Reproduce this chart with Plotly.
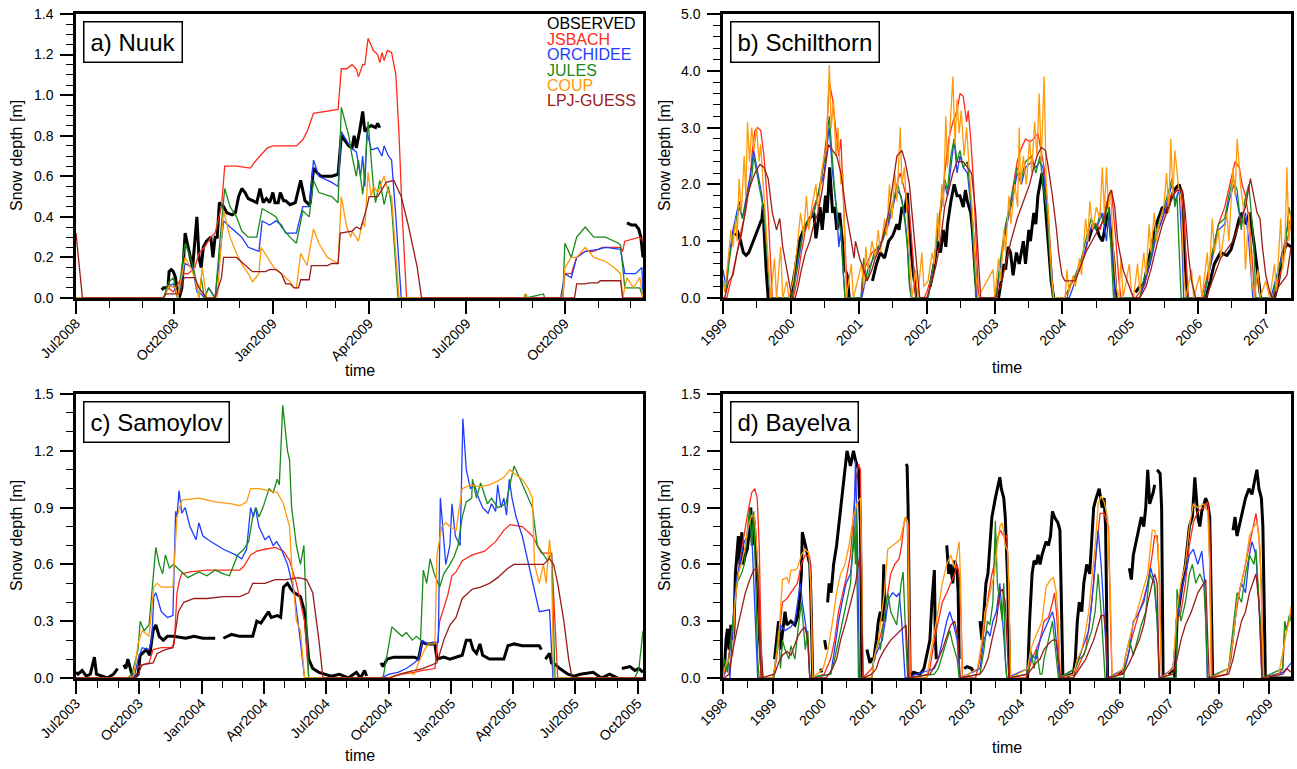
import datetime as dt
import plotly.graph_objects as go

# ---------------------------------------------------------------- series meta
series_names = ["OBSERVED", "JSBACH", "ORCHIDEE", "JULES", "COUP", "LPJ-GUESS"]
series_colors = ["#000000", "#FF2A1A", "#1F3DFF", "#1A8A1A", "#FF9A0A", "#9B1B1B"]
series_widths = [3.0, 1.3, 1.3, 1.3, 1.3, 1.3]

# ---------------------------------------------------------------- a) Nuuk  (days since 2008-07-01, depth m)
nuuk_start = "2008-07-01"
nuuk_obs = [(80,.04),(82,.05),(86,.05),(87,.13),(89,.14),(91,.13),(93,.10),(95,.02),(97,.01),(99,.05),(102,.32),(105,.25),(107,.20),(109,.15),(113,.40),(115,.20),(117,.15),(119,.25),(122,.28),(126,.30),(128,.20),(130,.30),(132,.30),(134,.47),(138,.45),(141,.42),(146,.41),(149,.42),(152,.50),(155,.54),(158,.52),(161,.49),(165,.48),(169,.47),(172,.54),(175,.47),(178,.49),(181,.47),(184,.52),(186,.47),(189,.47),(191,.52),(194,.48),(196,.48),(200,.46),(205,.47),(210,.58),(214,.48),(218,.46),(219,.47),(222,.64),(225,.62),(229,.60),(239,.60),(245,.61),(248,.80),(255,.75),(258,.74),(260,.80),(262,.74),(265,.82),(268,.92),(270,.82),(273,.84),(276,.85),(280,.84),(282,.86),(284,.84),(400,None),(515,.37),(519,.36),(523,.36),(526,.34),(528,.30),(529,.25),(530,.20)]
nuuk_jsb = [(0,0),(82,0),(86,.05),(91,.03),(101,.12),(105,.12),(111,.15),(115,.22),(120,.25),(126,.30),(130,.32),(134,.40),(136,.45),(139,.65),(150,.65),(163,.64),(167,.67),(172,.70),(179,.74),(184,.75),(206,.75),(212,.78),(216,.82),(222,.91),(235,.92),(245,.93),(248,1.13),(253,1.13),(258,1.15),(262,1.13),(264,1.09),(268,1.15),(270,1.15),(273,1.28),(278,1.22),(282,1.20),(284,1.16),(286,1.21),(288,1.17),(291,1.22),(295,1.21),(299,1.10),(302,.80),(305,.40),(309,0),(455,0),(457,.12),(463,.12),(468,.20),(476,.23),(484,.23),(492,.25),(509,.25),(511,.23),(513,.28),(519,.29),(527,.30),(530,.28)]
nuuk_orc = [(0,0),(82,0),(84,.03),(87,.06),(91,.07),(95,0),(102,.17),(109,.15),(113,.03),(117,.02),(120,0),(124,.05),(130,0),(134,.20),(138,.38),(144,.35),(150,.32),(155,.30),(161,.25),(171,.23),(174,.38),(181,.36),(187,.38),(192,.36),(196,.32),(206,.32),(212,.45),(218,.45),(222,.68),(227,.60),(239,.57),(245,.55),(248,.82),(257,.74),(262,.72),(266,.60),(268,.70),(270,.55),(272,.82),(276,.73),(282,.74),(286,.70),(288,.75),(292,.70),(295,.68),(299,.40),(304,0),(453,0),(457,.12),(463,.10),(468,.20),(476,.23),(488,.24),(495,.25),(509,.24),(513,.12),(523,.12),(529,.15),(530,0)]
nuuk_jul = [(0,0),(82,0),(84,.04),(87,.08),(91,.10),(95,0),(102,.27),(107,.20),(111,.12),(115,0),(117,.10),(120,0),(124,.05),(130,0),(134,.25),(139,.54),(144,.45),(150,.40),(155,.33),(161,.30),(169,.30),(174,.44),(181,.42),(187,.40),(192,.35),(200,.30),(206,.27),(212,.43),(218,.40),(222,.58),(227,.52),(239,.50),(245,.47),(248,.94),(255,.80),(258,.70),(262,.60),(264,.68),(268,.51),(270,.62),(273,.87),(278,.55),(280,.47),(284,.58),(288,.46),(292,.55),(295,.45),(301,0),(419,0),(420,.02),(421,0),(437,.02),(438,0),(455,0),(457,.27),(463,.20),(468,.30),(476,.35),(484,.30),(495,.30),(507,.27),(509,.26),(513,.05),(527,.05),(530,0)]
nuuk_coup = [(0,0),(82,0),(84,.02),(87,.06),(93,.05),(95,0),(102,.20),(107,.15),(111,.10),(115,0),(118,.15),(122,0),(132,0),(138,.43),(144,.30),(150,.22),(157,.15),(161,.12),(165,.08),(171,.12),(173,.25),(179,.20),(185,.15),(192,.12),(200,.08),(204,.05),(206,.05),(210,.22),(216,.16),(222,.34),(227,.27),(235,.20),(245,.17),(248,.50),(253,.35),(257,.30),(258,.33),(264,.28),(268,.38),(270,.35),(273,.62),(276,.50),(278,.55),(282,.52),(288,.60),(292,.52),(295,.50),(302,0),(420,0),(421,.02),(422,0),(455,0),(457,.15),(463,.20),(468,.20),(476,.25),(484,.20),(495,.18),(503,.15),(509,.12),(511,0),(515,.10),(521,.05),(527,.10),(530,0)]
nuuk_lpj = [(0,.32),(6,0),(82,0),(84,.02),(97,.02),(101,.10),(111,.10),(115,.05),(122,0),(130,0),(136,.10),(138,.20),(150,.20),(161,.15),(165,.13),(177,.13),(181,.14),(187,.14),(192,.12),(196,.07),(200,.07),(204,.05),(208,.05),(210,.09),(218,.09),(220,.16),(235,.16),(239,.17),(245,.17),(247,.32),(258,.33),(262,.35),(266,.34),(272,.45),(274,.50),(282,.50),(290,.57),(297,.58),(304,.50),(311,.35),(315,.25),(319,.15),(323,0),(466,0),(468,.07),(476,.07),(480,.075),(488,.075),(490,.085),(509,.085),(511,0),(530,0)]

# ---------------------------------------------------------------- b) Schilthorn  (decimal year, depth m)
schil_obs = [(1999.18,1.10),(1999.22,1.15),(1999.26,1.00),(1999.30,0.80),(1999.34,0.75),(1999.38,0.80),(1999.43,0.95),(1999.48,1.10),(1999.52,1.20),(1999.55,1.30),(1999.575,1.40),(1999.593,1.65),(1999.605,1.20),(1999.636,0.50),(1999.666,0.0),(1999.80,None),
 (2000.002,0.0),(2000.021,0.2),(2000.064,0.5),(2000.125,1.0),(2000.186,1.2),(2000.278,1.4),(2000.339,1.5),(2000.369,1.05),(2000.430,1.6),(2000.461,1.2),(2000.510,1.8),(2000.534,1.5),(2000.571,2.3),(2000.614,1.5),(2000.644,1.6),(2000.675,1.2),(2000.718,1.5),(2000.754,1.0),(2000.797,0.5),(2000.828,0.4),(2000.858,0.0),(2001.0,None),
 (2001.20,0.3),(2001.26,0.6),(2001.317,0.8),(2001.378,0.7),(2001.439,1.0),(2001.500,1.1),(2001.561,1.3),(2001.592,1.2),(2001.634,1.6),(2001.671,1.5),(2001.714,1.85),(2001.757,1.0),(2001.806,0.4),(2001.836,0.2),(2001.855,0.0),(2002.0,None),
 (2002.050,0.2),(2002.111,0.6),(2002.160,1.0),(2002.203,0.8),(2002.246,1.2),(2002.282,0.9),(2002.307,1.3),(2002.356,1.7),(2002.405,2.0),(2002.447,1.8),(2002.490,1.8),(2002.539,1.6),(2002.570,1.9),(2002.600,1.7),(2002.649,1.5),(2002.674,1.2),(2002.722,0.3),(2002.753,0.0),(2002.9,None),
 (2003.059,0.0),(2003.101,0.3),(2003.138,0.6),(2003.163,0.5),(2003.199,0.9),(2003.236,0.8),(2003.273,0.4),(2003.322,0.8),(2003.364,0.6),(2003.425,1.0),(2003.456,0.6),(2003.505,1.2),(2003.529,1.0),(2003.578,1.5),(2003.609,1.3),(2003.639,1.8),(2003.670,2.0),(2003.700,2.2),(2003.731,1.9),(2003.792,1.0),(2003.835,0.3),(2003.872,0.0),(2004.0,None),
 (2004.38,1.0),(2004.43,1.2),(2004.49,1.3),(2004.54,1.1),(2004.59,1.0),(2004.65,1.4),(2004.68,1.5),(2004.71,1.2),(2004.76,0.6),(2004.79,0.0),(2004.95,None),
 (2005.076,0.1),(2005.137,0.2),(2005.198,0.25),(2005.259,0.6),(2005.320,1.0),(2005.381,1.3),(2005.443,1.5),(2005.473,1.6),(2005.534,1.5),(2005.583,1.7),(2005.644,1.9),(2005.717,2.0),(2005.767,1.8),(2005.809,0.5),(2005.840,0.0),(2006.0,None),
 (2006.115,0.0),(2006.176,0.3),(2006.237,0.6),(2006.329,0.8),(2006.421,0.75),(2006.482,0.85),(2006.543,1.1),(2006.604,1.4),(2006.647,1.5),(2006.696,1.3),(2006.757,1.5),(2006.818,1.0),(2006.867,0.5),(2006.891,0.3),(2006.922,0.0),(2007.05,None),
 (2007.124,0.0),(2007.185,0.3),(2007.246,0.8),(2007.307,0.95),(2007.368,0.9)]
schil_jsb = [(1999.000,0.0),(1999.055,0.0),(1999.116,0.3),(1999.208,0.8),(1999.269,1.2),(1999.330,1.5),(1999.391,2.0),(1999.434,2.6),(1999.471,2.95),(1999.513,3.0),(1999.556,2.95),(1999.605,2.5),(1999.666,1.5),(1999.703,0.5),(1999.727,0.0),
 (2000.033,0.0),(2000.094,0.3),(2000.155,0.8),(2000.216,1.2),(2000.308,1.5),(2000.400,1.8),(2000.461,2.2),(2000.522,2.8),(2000.565,3.8),(2000.614,3.5),(2000.657,3.0),(2000.705,2.5),(2000.736,2.8),(2000.767,2.0),(2000.797,1.0),(2000.828,0.0),
 (2001.040,0.0),(2001.072,0.5),(2001.194,0.8),(2001.286,0.9),(2001.378,1.1),(2001.439,1.3),(2001.500,1.6),(2001.561,2.0),(2001.610,2.2),(2001.653,2.0),(2001.696,1.8),(2001.745,1.5),(2001.793,0.8),(2001.836,0.0),
 (2001.960,0.0),(2002.001,0.1),(2002.081,0.4),(2002.142,0.9),(2002.203,1.5),(2002.264,2.2),(2002.325,2.8),(2002.386,3.1),(2002.447,3.3),(2002.490,3.6),(2002.539,3.55),(2002.588,3.1),(2002.612,3.3),(2002.649,2.8),(2002.692,2.0),(2002.735,0.8),(2002.765,0.0),
 (2003.028,0.0),(2003.077,0.5),(2003.138,1.0),(2003.212,1.5),(2003.285,2.0),(2003.334,2.4),(2003.383,2.6),(2003.456,2.8),(2003.517,2.75),(2003.578,2.8),(2003.639,2.9),(2003.688,2.6),(2003.731,2.3),(2003.792,1.5),(2003.835,0.5),(2003.866,0.0),
 (2004.030,0.0),(2004.067,0.1),(2004.159,0.3),(2004.251,0.5),(2004.342,0.8),(2004.403,1.2),(2004.495,1.3),(2004.556,1.2),(2004.617,1.5),(2004.679,1.8),(2004.721,1.9),(2004.752,1.5),(2004.788,1.0),(2004.831,0.3),(2004.862,0.0),
 (2005.076,0.0),(2005.198,0.2),(2005.290,0.6),(2005.363,1.0),(2005.443,1.3),(2005.534,1.6),(2005.595,1.8),(2005.687,1.9),(2005.748,1.9),(2005.785,1.5),(2005.828,0.5),(2005.852,0.0),
 (2006.050,0.0),(2006.115,0.3),(2006.207,0.8),(2006.298,1.3),(2006.390,1.6),(2006.451,1.9),(2006.512,2.2),(2006.543,2.4),(2006.604,2.3),(2006.647,2.0),(2006.696,1.8),(2006.757,1.3),(2006.805,0.5),(2006.830,0.0),
 (2007.093,0.0),(2007.185,0.3),(2007.246,0.6),(2007.307,1.0),(2007.368,1.3)]
schil_orc = [(1999.000,0.5),(1999.043,0.2),(1999.086,0.7),(1999.147,1.2),(1999.238,1.7),(1999.287,1.4),(1999.361,1.9),(1999.422,2.3),(1999.452,2.6),(1999.513,2.2),(1999.575,1.8),(1999.636,1.0),(1999.697,0.0),
 (2000.010,0.0),(2000.033,0.1),(2000.106,0.6),(2000.186,1.2),(2000.278,1.4),(2000.339,1.5),(2000.412,1.9),(2000.491,2.2),(2000.534,2.7),(2000.565,3.0),(2000.614,2.2),(2000.644,1.9),(2000.675,1.5),(2000.705,0.9),(2000.736,1.2),(2000.767,0.5),(2000.797,0.0),
 (2001.042,0.0),(2001.133,0.5),(2001.256,0.8),(2001.347,1.0),(2001.427,1.3),(2001.500,1.6),(2001.561,1.9),(2001.622,1.8),(2001.671,1.5),(2001.714,1.0),(2001.745,0.3),(2001.775,0.0),
 (2002.020,0.0),(2002.050,0.2),(2002.124,0.8),(2002.203,1.5),(2002.264,2.0),(2002.307,1.8),(2002.356,2.3),(2002.405,2.8),(2002.447,2.2),(2002.490,2.5),(2002.539,2.3),(2002.600,2.2),(2002.661,1.5),(2002.710,0.5),(2002.735,0.0),
 (2003.010,0.0),(2003.028,0.1),(2003.089,0.6),(2003.163,1.2),(2003.242,1.6),(2003.334,2.2),(2003.395,2.0),(2003.456,2.3),(2003.548,2.4),(2003.609,2.3),(2003.670,2.4),(2003.713,2.3),(2003.774,1.6),(2003.835,0.5),(2003.872,0.0),
 (2004.100,0.0),(2004.128,0.1),(2004.190,0.3),(2004.281,0.6),(2004.373,1.0),(2004.434,1.3),(2004.495,1.2),(2004.587,1.5),(2004.648,1.0),(2004.691,1.6),(2004.727,0.8),(2004.764,0.2),(2004.788,0.0),
 (2005.140,0.0),(2005.167,0.1),(2005.290,0.6),(2005.381,1.1),(2005.473,1.4),(2005.565,1.8),(2005.614,2.0),(2005.656,1.7),(2005.717,1.9),(2005.760,1.0),(2005.785,0.0),
 (2006.080,0.0),(2006.115,0.2),(2006.207,0.7),(2006.298,1.2),(2006.390,1.3),(2006.451,1.7),(2006.525,2.0),(2006.573,1.7),(2006.634,1.3),(2006.696,1.5),(2006.745,1.0),(2006.787,0.3),(2006.805,0.0),
 (2007.070,0.0),(2007.093,0.1),(2007.185,0.5),(2007.246,0.8),(2007.307,1.2),(2007.368,1.4)]
schil_jul = [(1999.000,0.3),(1999.043,0.1),(1999.086,0.6),(1999.147,1.1),(1999.238,1.6),(1999.287,1.4),(1999.361,1.8),(1999.422,2.1),(1999.452,2.5),(1999.513,2.1),(1999.605,1.5),(1999.666,0.5),(1999.697,0.0),
 (2000.010,0.0),(2000.033,0.1),(2000.106,0.7),(2000.186,1.2),(2000.278,1.4),(2000.339,1.5),(2000.412,1.9),(2000.491,2.4),(2000.565,3.2),(2000.614,2.3),(2000.644,1.9),(2000.687,1.4),(2000.736,1.2),(2000.779,0.3),(2000.797,0.0),
 (2001.030,0.0),(2001.072,0.7),(2001.121,0.3),(2001.225,0.8),(2001.347,1.0),(2001.439,1.4),(2001.531,1.8),(2001.573,2.0),(2001.634,1.7),(2001.683,1.3),(2001.714,0.9),(2001.745,0.2),(2001.775,0.0),
 (2002.020,0.0),(2002.050,0.2),(2002.124,0.8),(2002.203,1.6),(2002.264,2.1),(2002.307,1.9),(2002.356,2.5),(2002.405,2.8),(2002.447,2.4),(2002.490,2.6),(2002.539,2.3),(2002.600,2.4),(2002.661,1.6),(2002.710,0.4),(2002.722,0.0),
 (2003.010,0.0),(2003.028,0.1),(2003.089,0.7),(2003.163,1.3),(2003.242,1.7),(2003.334,2.3),(2003.395,2.1),(2003.456,2.4),(2003.548,2.5),(2003.609,2.2),(2003.670,2.5),(2003.713,2.0),(2003.774,1.5),(2003.823,0.5),(2003.853,0.0),
 (2004.070,0.0),(2004.098,0.2),(2004.190,0.4),(2004.281,0.7),(2004.361,1.1),(2004.422,1.4),(2004.495,1.2),(2004.556,1.5),(2004.617,1.3),(2004.666,1.7),(2004.709,1.0),(2004.752,0.0),
 (2005.140,0.0),(2005.167,0.2),(2005.290,0.7),(2005.381,1.2),(2005.473,1.5),(2005.565,1.9),(2005.614,2.1),(2005.656,1.6),(2005.687,1.8),(2005.730,0.5),(2005.748,0.0),
 (2006.080,0.0),(2006.115,0.2),(2006.207,0.8),(2006.298,1.3),(2006.390,1.4),(2006.451,1.8),(2006.512,2.1),(2006.573,1.9),(2006.634,1.2),(2006.684,1.7),(2006.745,2.0),(2006.818,1.0),(2006.848,0.0),
 (2007.100,0.0),(2007.124,0.2),(2007.185,0.5),(2007.276,0.8),(2007.337,1.6),(2007.368,1.4)]
schil_coup = [(1999.000,0.3),(1999.024,0.1),(1999.086,0.8),(1999.116,1.2),(1999.147,0.9),(1999.189,1.4),(1999.208,1.0),(1999.238,2.1),(1999.269,1.5),(1999.312,2.5),(1999.336,1.8),(1999.361,3.1),(1999.391,2.4),(1999.422,3.0),(1999.458,2.6),(1999.495,3.0),(1999.532,2.4),(1999.556,2.7),(1999.593,2.0),(1999.636,1.2),(1999.678,0.5),(1999.703,0.0),(1999.758,0.7),(1999.789,0.0),(1999.850,0.9),(1999.880,0.0),(1999.941,0.3),(1999.972,0.0),
 (2000.033,0.3),(2000.094,0.9),(2000.143,1.5),(2000.186,1.1),(2000.229,1.8),(2000.265,1.2),(2000.308,1.6),(2000.369,2.0),(2000.400,1.5),(2000.449,2.2),(2000.491,2.5),(2000.522,2.6),(2000.565,4.1),(2000.595,3.0),(2000.626,3.5),(2000.663,2.5),(2000.693,3.0),(2000.736,2.0),(2000.767,2.2),(2000.797,0.5),(2000.815,0.0),(2000.889,0.6),(2000.919,0.0),
 (2001.042,0.6),(2001.072,0.2),(2001.103,0.9),(2001.133,0.5),(2001.194,1.0),(2001.243,0.7),(2001.286,1.2),(2001.317,0.8),(2001.378,1.4),(2001.408,1.1),(2001.451,2.0),(2001.488,1.4),(2001.531,2.2),(2001.561,1.7),(2001.610,3.0),(2001.634,2.0),(2001.671,2.3),(2001.714,1.5),(2001.745,0.8),(2001.781,0.0),(2001.836,0.5),(2001.867,0.0),(2001.928,0.8),(2001.958,0.2),
 (2002.020,0.3),(2002.081,0.8),(2002.111,0.6),(2002.160,1.5),(2002.185,1.0),(2002.221,2.0),(2002.246,1.6),(2002.282,3.2),(2002.307,2.3),(2002.344,3.0),(2002.386,3.9),(2002.417,2.7),(2002.447,3.5),(2002.478,2.9),(2002.509,3.3),(2002.551,2.5),(2002.588,3.0),(2002.631,2.2),(2002.674,1.5),(2002.722,0.5),(2002.753,0.0),
 (2002.979,0.5),(2003.004,0.0),(2003.059,0.7),(2003.089,0.3),(2003.138,1.2),(2003.163,0.8),(2003.212,1.8),(2003.242,1.3),(2003.300,2.0),(2003.340,1.6),(2003.364,3.0),(2003.383,2.0),(2003.425,2.5),(2003.468,2.0),(2003.517,2.8),(2003.548,2.2),(2003.590,3.1),(2003.627,2.5),(2003.658,3.6),(2003.688,2.4),(2003.731,3.9),(2003.762,2.0),(2003.792,1.5),(2003.835,0.5),(2003.872,0.0),
 (2004.040,0.0),(2004.067,0.5),(2004.098,0.1),(2004.159,0.4),(2004.190,0.2),(2004.251,0.7),(2004.281,0.4),(2004.342,1.4),(2004.373,1.0),(2004.403,1.7),(2004.446,1.2),(2004.500,1.6),(2004.550,1.4),(2004.587,2.3),(2004.617,1.5),(2004.648,2.3),(2004.679,1.6),(2004.709,1.9),(2004.752,0.8),(2004.788,0.2),(2004.830,0.0),(2004.862,0.7),(2004.892,0.0),(2004.984,0.6),(2005.015,0.1),(2005.045,0.0),
 (2005.106,0.6),(2005.137,0.1),(2005.198,0.8),(2005.229,0.4),(2005.277,1.3),(2005.302,0.8),(2005.351,1.5),(2005.381,1.0),(2005.440,1.4),(2005.490,1.6),(2005.534,2.2),(2005.565,1.5),(2005.595,2.8),(2005.626,1.8),(2005.656,2.6),(2005.705,2.0),(2005.748,1.7),(2005.785,0.5),(2005.815,0.0),(2005.901,0.5),(2005.932,0.0),
 (2006.023,0.4),(2006.054,0.0),(2006.133,0.8),(2006.158,0.3),(2006.207,1.4),(2006.237,0.8),(2006.298,1.2),(2006.329,0.7),(2006.421,1.5),(2006.451,1.0),(2006.512,2.3),(2006.543,1.8),(2006.573,2.8),(2006.622,2.0),(2006.665,1.6),(2006.696,0.5),(2006.745,1.5),(2006.787,0.3),(2006.830,0.0),(2006.879,0.5),(2006.910,0.0),(2006.995,0.3),(2007.056,0.0),
 (2007.124,0.6),(2007.154,0.1),(2007.215,1.4),(2007.246,0.5),(2007.276,0.8),(2007.307,2.3),(2007.337,1.0),(2007.368,1.5)]
schil_lpj = [(1999.000,0.0),(1999.024,0.0),(1999.086,0.3),(1999.147,0.4),(1999.208,0.8),(1999.269,1.1),(1999.312,1.4),(1999.361,1.8),(1999.410,2.0),(1999.471,2.2),(1999.544,2.35),(1999.605,2.3),(1999.666,2.1),(1999.727,1.5),(1999.789,1.2),(1999.837,1.4),(1999.880,0.9),(1999.941,0.5),(2000.002,0.1),(2000.033,0.0),(2000.064,0.0),
 (2000.106,0.2),(2000.155,0.5),(2000.216,0.8),(2000.278,1.0),(2000.339,1.3),(2000.400,1.5),(2000.461,1.9),(2000.510,2.3),(2000.553,2.7),(2000.614,2.6),(2000.675,2.5),(2000.736,2.2),(2000.767,1.9),(2000.815,1.5),(2000.889,1.0),(2000.930,0.7),(2000.950,1.0),(2001.011,0.7),(2001.072,0.5),(2001.121,0.3),(2001.194,0.5),(2001.243,0.7),(2001.317,0.9),(2001.378,1.2),(2001.439,1.5),(2001.500,2.0),(2001.561,2.5),(2001.634,2.6),(2001.683,2.4),(2001.745,2.0),(2001.806,1.2),(2001.855,0.5),(2001.897,0.0),
 (2002.001,0.0),(2002.081,0.3),(2002.142,0.6),(2002.203,1.0),(2002.264,1.6),(2002.325,1.9),(2002.386,2.2),(2002.447,2.4),(2002.539,2.4),(2002.600,2.3),(2002.661,2.2),(2002.722,1.5),(2002.771,0.5),(2002.796,0.0),
 (2003.004,0.0),(2003.089,0.2),(2003.163,0.6),(2003.242,1.0),(2003.334,1.4),(2003.395,1.6),(2003.456,1.8),(2003.517,2.0),(2003.578,2.3),(2003.627,2.5),(2003.688,2.65),(2003.750,2.6),(2003.792,2.3),(2003.853,1.8),(2003.914,1.2),(2003.945,0.8),(2003.994,0.4),(2004.037,0.3),(2004.128,0.3),(2004.190,0.3),(2004.251,0.5),(2004.342,0.8),(2004.434,1.0),(2004.526,1.2),(2004.617,1.4),(2004.679,1.8),(2004.721,1.9),(2004.770,1.6),(2004.813,1.0),(2004.892,0.5),(2004.984,0.2),(2005.045,0.0),
 (2005.137,0.0),(2005.229,0.2),(2005.302,0.5),(2005.381,0.9),(2005.473,1.3),(2005.565,1.6),(2005.626,1.8),(2005.687,1.9),(2005.767,1.9),(2005.809,1.5),(2005.852,0.8),(2005.901,0.3),(2005.962,0.0),
 (2006.115,0.0),(2006.207,0.3),(2006.329,0.7),(2006.421,0.85),(2006.512,1.0),(2006.604,1.3),(2006.696,1.6),(2006.769,2.1),(2006.818,1.8),(2006.867,1.5),(2006.910,1.4),(2006.946,0.9),(2006.995,0.4),(2007.056,0.1),(2007.093,0.0),
 (2007.124,0.0),(2007.185,0.2),(2007.246,0.3),(2007.307,0.4),(2007.356,0.8),(2007.368,0.9)]

# ---------------------------------------------------------------- c) Samoylov  (days since 2003-07-01, depth m)
samo_start = "2003-07-01"
samo_obs = [(0,.03),(3,.02),(9,.04),(15,.01),(21,.02),(27,.11),(30,.02),(37,.01),(46,0),(55,.02),(61,.05),(64,None),(70,.07),(73,.05),(76,.10),(81,.03),(85,0),(91,.02),(94,.12),(103,.15),(108,.12),(113,.25),(117,.28),(122,.22),(128,.20),(134,.22),(143,.22),(161,.21),(173,.22),(186,.21),(204,.21),(210,None),(216,.21),(228,.23),(240,.22),(259,.22),(265,.30),(271,.29),(282,.35),(286,.32),(295,.33),(300,.32),(304,.48),(310,.50),(315,.47),(320,.45),(329,.43),(335,.35),(341,.10),(347,.05),(356,.03),(365,.02),(374,.01),(386,.02),(399,0),(411,.03),(417,0),(423,.04),(426,.01),(435,None),(447,.08),(450,.06),(456,.10),(466,.11),(484,.11),(496,.11),(502,.10),(507,.19),(514,.18),(526,.18),(529,.10),(539,.11),(548,.10),(557,.11),(566,.12),(572,.20),(578,.20),(582,.15),(587,.13),(592,.18),(596,.12),(606,.10),(627,.10),(633,.17),(642,.18),(654,.17),(679,.17),(682,.15),(685,None),(688,.10),(694,.13),(697,.08),(703,.07),(709,.05),(721,.02),(730,.01),(739,.02),(758,.03),(770,0),(782,.02),(794,0),(797,None),(800,.05),(812,.06),(819,.04),(825,.05),(831,.03)]
samo_jsb = [(0,0),(82,0),(88,.05),(97,.07),(107,.08),(113,.15),(125,.16),(140,.16),(144,.18),(148,.45),(152,.52),(155,.55),(167,.56),(192,.57),(240,.57),(246,.59),(256,.65),(265,.67),(277,.68),(292,.69),(304,.67),(313,.62),(323,.50),(329,.40),(335,.30),(341,0),(460,0),(466,.01),(478,.02),(496,.03),(508,.04),(526,.05),(533,.30),(539,.37),(545,.44),(551,.54),(557,.56),(566,.62),(581,.65),(599,.67),(615,.72),(627,.78),(636,.81),(654,.80),(669,.75),(682,.66),(697,.66),(706,0),(831,0)]
samo_orc = [(0,0),(85,0),(91,.10),(97,.16),(107,.15),(111,.20),(114,.43),(117,.45),(125,.35),(134,.32),(142,.33),(146,.88),(148,.85),(151,.99),(155,.87),(160,.90),(167,.80),(176,.73),(180,.82),(186,.75),(198,.72),(216,.68),(234,.65),(243,.63),(250,.68),(256,.90),(260,.85),(263,.90),(268,.80),(277,.73),(283,.75),(289,.70),(294,.72),(301,.68),(310,.60),(320,.45),(327,.25),(335,0),(447,0),(459,.02),(472,.03),(484,.05),(496,.08),(502,.10),(508,.20),(514,.18),(523,.19),(531,.19),(534,.95),(542,.60),(548,.70),(551,.92),(556,.75),(563,.70),(567,1.37),(572,1.10),(578,1.00),(584,1.02),(590,.95),(596,.90),(604,.87),(609,.92),(615,.88),(618,1.02),(623,.90),(627,.95),(631,.86),(635,1.05),(639,.95),(645,.85),(654,.75),(663,.60),(672,.45),(679,.35),(694,.36),(699,0),(831,0)]
samo_jul = [(0,0),(76,0),(82,.02),(91,.15),(94,.30),(100,.25),(107,.28),(114,.55),(117,.69),(122,.60),(127,.55),(131,.65),(137,.58),(143,.60),(155,.56),(164,.53),(180,.56),(192,.54),(204,.57),(216,.55),(225,.54),(231,.60),(237,.65),(246,.68),(253,.72),(259,.85),(264,.90),(268,.85),(274,.90),(283,1.00),(289,.98),(295,1.05),(298,1.02),(303,1.44),(310,1.20),(313,1.15),(316,.90),(323,.70),(329,.60),(334,.70),(338,.30),(341,0),(450,0),(455,.10),(463,.27),(469,.25),(478,.22),(484,.24),(493,.20),(499,.22),(505,.20),(509,.57),(514,.50),(519,.63),(525,.55),(533,.48),(539,.55),(548,.60),(554,.64),(560,.70),(566,.85),(572,.93),(580,.95),(581,1.05),(587,.95),(593,1.03),(603,.92),(609,.95),(618,.90),(630,.92),(642,1.12),(651,1.05),(663,.95),(669,.90),(676,.70),(685,.65),(691,.62),(697,.66),(702,0),(819,0),(825,.05),(831,.25)]
samo_coup = [(0,0),(82,0),(85,.02),(91,.18),(97,.25),(107,.22),(114,.48),(119,.50),(125,.48),(142,.48),(148,.85),(155,.94),(180,.95),(192,.94),(204,.93),(228,.92),(240,.91),(250,.93),(256,1.00),(268,1.00),(283,.99),(295,.98),(304,.92),(313,.80),(316,.60),(323,.30),(329,.25),(335,0),(456,0),(466,.01),(484,.03),(496,.02),(502,.08),(511,.15),(517,.18),(526,.18),(529,.65),(536,.80),(542,.82),(548,.80),(557,.78),(566,1.00),(578,1.02),(593,1.01),(606,1.02),(618,1.04),(627,1.06),(636,1.10),(642,1.08),(654,1.05),(663,1.00),(669,.95),(672,.60),(679,.50),(685,.60),(689,.50),(694,.73),(697,.60),(700,0),(831,0)]
samo_lpj = [(0,0),(85,0),(91,.02),(97,.07),(113,.08),(119,.13),(131,.15),(142,.16),(146,.25),(150,.35),(158,.40),(173,.42),(192,.42),(216,.43),(240,.43),(253,.45),(259,.50),(277,.50),(292,.52),(307,.52),(326,.53),(338,.52),(347,.45),(356,.20),(362,0),(460,0),(466,.01),(484,.03),(508,.05),(529,.08),(539,.20),(548,.28),(557,.32),(566,.42),(581,.47),(593,.48),(606,.50),(618,.53),(633,.58),(642,.60),(660,.60),(685,.60),(694,.63),(700,.60),(706,.50),(715,.30),(722,.10),(727,0),(831,0)]

# ---------------------------------------------------------------- d) Bayelva  (decimal year, depth m)
bay_obs = [(1998.03,.05),(1998.06,.20),(1998.09,.26),(1998.12,.15),(1998.16,.28),(1998.20,.20),(1998.22,.25),(1998.25,.55),(1998.31,.75),(1998.34,.60),(1998.38,.77),(1998.41,.60),(1998.45,.65),(1998.49,.68),(1998.54,.80),(1998.56,.90),(1998.59,.70),(1998.63,.83),(1998.66,.68),(1998.70,.50),(1998.74,.20),(1998.79,0),(1998.9,None),
 (1999.04,.10),(1999.08,.20),(1999.12,.30),(1999.16,.15),(1999.20,.25),(1999.25,.35),(1999.29,.28),(1999.37,.30),(1999.45,.28),(1999.50,.32),(1999.54,.40),(1999.58,.55),(1999.60,.77),(1999.66,.70),(1999.71,.65),(1999.75,.60),(1999.77,.45),(1999.81,0),(1999.9,None),
 (1999.97,.05),(1999.99,.03),(2000.02,None),(2000.05,.20),(2000.08,.15),(2000.09,None),(2000.11,.40),(2000.14,.50),(2000.18,.45),(2000.23,.60),(2000.29,.70),(2000.33,.80),(2000.37,.90),(2000.42,1.00),(2000.46,1.13),(2000.50,1.20),(2000.57,1.12),(2000.63,1.20),(2000.67,1.15),(2000.73,1.10),(2000.77,.80),(2000.78,.30),(2000.80,0),(2000.85,None),
 (2000.90,.15),(2000.96,.08),(2001.00,.10),(2001.04,.10),(2001.09,.20),(2001.13,.30),(2001.17,.35),(2001.21,.30),(2001.24,.60),(2001.26,.30),(2001.4,None),
 (2001.69,1.13),(2001.71,1.12),(2001.73,.90),(2001.75,.40),(2001.77,0),(2001.82,.02),(2001.84,.03),(2001.96,.02),(2002.00,.03),(2002.05,.05),(2002.17,.20),(2002.21,.40),(2002.26,.57),(2002.28,.20),(2002.30,.10),(2002.4,None),
 (2002.51,.70),(2002.55,.55),(2002.59,.60),(2002.63,.50),(2002.67,.62),(2002.72,.55),(2002.74,.45),(2002.76,.10),(2002.8,None),(2002.86,.05),(2002.92,.06),(2003.01,.05),(2003.05,.03),(2003.1,None),
 (2003.18,.30),(2003.22,.20),(2003.26,.35),(2003.30,.50),(2003.34,.55),(2003.38,.70),(2003.42,.85),(2003.49,.95),(2003.53,1.00),(2003.58,1.06),(2003.61,1.00),(2003.66,.95),(2003.69,.85),(2003.74,.50),(2003.78,0),(2003.9,None),
 (2004.14,0),(2004.18,.30),(2004.23,.55),(2004.27,.62),(2004.31,.60),(2004.35,.65),(2004.39,.60),(2004.43,.65),(2004.51,.72),(2004.56,.70),(2004.60,.75),(2004.64,.88),(2004.68,.85),(2004.75,.82),(2004.79,.78),(2004.82,.40),(2004.85,0),(2005.02,.02),(2005.06,.02),(2005.10,.10),(2005.14,.30),(2005.18,.40),(2005.23,.35),(2005.27,.50),(2005.33,.60),(2005.39,.55),(2005.43,.70),(2005.47,.90),(2005.52,.95),(2005.58,1.00),(2005.64,.90),(2005.68,.95),(2005.71,.80),(2005.75,0),(2005.85,None),
 (2005.94,.02),(2006.02,.03),(2006.06,.02),(2006.1,None),(2006.19,.58),(2006.23,.52),(2006.27,.65),(2006.31,.70),(2006.35,.75),(2006.39,.80),(2006.43,.85),(2006.48,.80),(2006.52,.90),(2006.56,1.10),(2006.60,.92),(2006.67,.98),(2006.70,1.02),(2006.72,None),(2006.75,1.10),(2006.81,1.08),(2006.84,.90),(2006.87,0),(2006.92,None),
 (2006.98,.02),(2007.07,.05),(2007.11,0),(2007.15,.30),(2007.23,.45),(2007.32,.60),(2007.40,.80),(2007.46,.85),(2007.51,1.06),(2007.57,.85),(2007.61,.80),(2007.65,.88),(2007.73,.95),(2007.77,.92),(2007.81,.85),(2007.84,.50),(2007.87,0),(2008.0,None),
 (2008.28,.78),(2008.32,.85),(2008.36,.75),(2008.40,.80),(2008.45,.85),(2008.53,.95),(2008.60,1.00),(2008.66,.97),(2008.72,1.05),(2008.76,1.10),(2008.80,1.00),(2008.85,.95),(2008.88,.80),(2008.91,.30),(2008.93,0),(2009.03,0),(2009.45,0)]
bay_jsb = [(1998.00,0),(1998.08,.05),(1998.16,.20),(1998.24,.40),(1998.33,.60),(1998.39,.70),(1998.45,.80),(1998.52,.90),(1998.58,.98),(1998.64,1.00),(1998.69,.95),(1998.73,.70),(1998.76,.30),(1998.79,0),
 (1999.00,0),(1999.08,.10),(1999.16,.30),(1999.20,.40),(1999.29,.42),(1999.37,.45),(1999.45,.48),(1999.50,.50),(1999.58,.60),(1999.66,.65),(1999.75,.64),(1999.79,.30),(1999.81,0),
 (2000.04,.02),(2000.17,.10),(2000.25,.20),(2000.33,.35),(2000.42,.45),(2000.50,.55),(2000.57,.65),(2000.63,.85),(2000.68,1.05),(2000.73,1.13),(2000.77,1.10),(2000.79,.60),(2000.82,0),
 (2001.00,.05),(2001.09,.15),(2001.17,.22),(2001.24,.30),(2001.29,.40),(2001.38,.55),(2001.46,.60),(2001.55,.63),(2001.60,.70),(2001.65,.82),(2001.69,.85),(2001.74,.80),(2001.78,0),
 (2002.10,0),(2002.17,.05),(2002.26,.20),(2002.34,.30),(2002.42,.40),(2002.51,.45),(2002.59,.50),(2002.67,.55),(2002.72,.60),(2002.76,.55),(2002.80,.30),(2002.83,0),
 (2003.09,0),(2003.18,.10),(2003.24,.20),(2003.30,.35),(2003.36,.45),(2003.42,.55),(2003.47,.60),(2003.51,.72),(2003.59,.78),(2003.66,.75),(2003.72,.75),(2003.76,.50),(2003.79,0),
 (2004.10,0),(2004.14,.02),(2004.23,.10),(2004.31,.15),(2004.39,.20),(2004.47,.30),(2004.56,.32),(2004.64,.40),(2004.68,.45),(2004.72,.35),(2004.76,.20),(2004.80,0),
 (2005.06,0),(2005.14,.05),(2005.23,.10),(2005.31,.15),(2005.39,.30),(2005.47,.50),(2005.53,.70),(2005.60,.87),(2005.68,.87),(2005.77,.80),(2005.81,.30),(2005.84,0),
 (2006.06,.03),(2006.15,.10),(2006.23,.20),(2006.31,.28),(2006.39,.35),(2006.48,.42),(2006.56,.50),(2006.65,.65),(2006.70,.75),(2006.75,.75),(2006.80,.50),(2006.84,0),
 (2007.07,.05),(2007.15,.30),(2007.23,.35),(2007.32,.50),(2007.40,.70),(2007.48,.82),(2007.57,.88),(2007.69,.90),(2007.77,.93),(2007.81,.80),(2007.86,0),
 (2008.15,.02),(2008.24,.10),(2008.32,.30),(2008.40,.45),(2008.49,.55),(2008.60,.70),(2008.70,.82),(2008.74,.87),(2008.80,.75),(2008.85,.50),(2008.88,0),
 (2009.20,.02),(2009.28,.05),(2009.32,.25),(2009.41,.30),(2009.45,.35)]
bay_orc = [(1998.00,0),(1998.03,.03),(1998.12,.08),(1998.14,0),(1998.20,.30),(1998.26,.50),(1998.37,.65),(1998.43,.72),(1998.49,.75),(1998.54,.85),(1998.59,.70),(1998.64,.40),(1998.70,0),
 (1999.00,0),(1999.04,.05),(1999.12,.20),(1999.16,.28),(1999.25,.25),(1999.37,.27),(1999.45,.30),(1999.56,.50),(1999.60,.40),(1999.65,.30),(1999.71,.20),(1999.75,0),
 (2000.17,.02),(2000.25,.15),(2000.33,.30),(2000.40,.40),(2000.48,.50),(2000.57,.55),(2000.63,.70),(2000.67,1.15),(2000.71,.70),(2000.75,0),
 (2001.00,0),(2001.04,.10),(2001.13,.15),(2001.21,.20),(2001.27,.30),(2001.34,.42),(2001.42,.45),(2001.50,.43),(2001.55,.45),(2001.60,.30),(2001.67,0),
 (2002.26,.05),(2002.34,.10),(2002.42,.20),(2002.51,.30),(2002.57,.35),(2002.63,.30),(2002.72,.20),(2002.78,0),
 (2003.18,.05),(2003.26,.20),(2003.33,.25),(2003.38,.22),(2003.44,.30),(2003.51,.35),(2003.58,.50),(2003.61,.40),(2003.67,.20),(2003.72,0),
 (2004.14,.05),(2004.23,.12),(2004.31,.10),(2004.39,.20),(2004.47,.25),(2004.56,.30),(2004.64,.35),(2004.68,.30),(2004.75,.10),(2004.78,0),
 (2005.10,.05),(2005.23,.15),(2005.31,.20),(2005.37,.25),(2005.43,.40),(2005.50,.60),(2005.56,.78),(2005.62,.60),(2005.67,.40),(2005.71,.20),(2005.75,0),
 (2006.10,.05),(2006.19,.15),(2006.27,.30),(2006.35,.33),(2006.48,.40),(2006.56,.50),(2006.62,.58),(2006.70,.50),(2006.75,.30),(2006.80,0),
 (2007.07,.05),(2007.15,.30),(2007.23,.45),(2007.32,.55),(2007.40,.65),(2007.48,.68),(2007.57,.60),(2007.65,.67),(2007.71,.50),(2007.76,0),
 (2008.19,.05),(2008.28,.20),(2008.36,.40),(2008.45,.50),(2008.53,.45),(2008.61,.65),(2008.66,.72),(2008.74,.65),(2008.82,.30),(2008.86,0),
 (2009.28,.03),(2009.36,.05),(2009.45,.08)]
bay_jul = [(1998.00,0),(1998.03,.10),(1998.09,.03),(1998.20,.30),(1998.28,.50),(1998.37,.55),(1998.43,.60),(1998.48,.75),(1998.54,.90),(1998.58,.70),(1998.62,.88),(1998.66,.50),(1998.70,.10),(1998.73,0),
 (1999.03,0),(1999.06,.10),(1999.12,.25),(1999.16,.05),(1999.20,.20),(1999.25,.15),(1999.33,.10),(1999.37,.17),(1999.45,.10),(1999.51,.25),(1999.58,.40),(1999.66,.15),(1999.71,.25),(1999.75,0),
 (2000.17,.02),(2000.25,.10),(2000.33,.20),(2000.42,.30),(2000.50,.40),(2000.57,.50),(2000.64,.80),(2000.67,.60),(2000.68,.90),(2000.71,.30),(2000.73,0),
 (2001.00,0),(2001.04,.10),(2001.13,.20),(2001.17,.15),(2001.24,.30),(2001.32,.45),(2001.38,.35),(2001.46,.30),(2001.50,.28),(2001.59,.50),(2001.63,.56),(2001.67,.30),(2001.72,0),
 (2002.26,.02),(2002.34,.05),(2002.42,.12),(2002.51,.20),(2002.57,.25),(2002.63,.18),(2002.72,.10),(2002.76,0),
 (2003.18,.02),(2003.26,.15),(2003.33,.30),(2003.38,.28),(2003.44,.40),(2003.49,.83),(2003.53,.50),(2003.58,.40),(2003.63,.30),(2003.66,.50),(2003.69,.10),(2003.72,0),
 (2004.14,.02),(2004.20,.15),(2004.27,.05),(2004.32,.15),(2004.39,.02),(2004.43,.02),(2004.47,.10),(2004.56,.20),(2004.64,.30),(2004.68,.20),(2004.72,.10),(2004.76,0),
 (2005.10,.05),(2005.18,.10),(2005.27,.12),(2005.35,.18),(2005.43,.25),(2005.50,.35),(2005.56,.55),(2005.62,.35),(2005.67,.15),(2005.70,0),
 (2006.08,0),(2006.10,.10),(2006.19,.20),(2006.27,.12),(2006.35,.20),(2006.43,.28),(2006.52,.35),(2006.60,.55),(2006.69,.50),(2006.75,.30),(2006.79,0),
 (2007.13,0),(2007.15,.47),(2007.23,.30),(2007.32,.40),(2007.40,.55),(2007.46,.60),(2007.53,.50),(2007.61,.55),(2007.69,.50),(2007.73,.30),(2007.77,0),
 (2008.19,.05),(2008.28,.25),(2008.36,.45),(2008.45,.40),(2008.53,.55),(2008.61,.65),(2008.70,.60),(2008.74,.68),(2008.80,.40),(2008.85,.20),(2008.86,0),
 (2009.28,.05),(2009.32,.30),(2009.36,.25),(2009.41,.33),(2009.45,.30)]
bay_coup = [(1998.00,0),(1998.03,.05),(1998.12,.10),(1998.20,.12),(1998.24,.40),(1998.31,.55),(1998.37,.60),(1998.45,.70),(1998.51,.80),(1998.58,.86),(1998.64,.85),(1998.70,.60),(1998.74,.20),(1998.77,0),
 (1999.00,0),(1999.04,.05),(1999.12,.20),(1999.20,.52),(1999.29,.53),(1999.33,.50),(1999.37,.57),(1999.45,.57),(1999.50,.58),(1999.58,.65),(1999.66,.68),(1999.73,.66),(1999.77,.50),(1999.81,0),
 (2000.02,.05),(2000.12,.15),(2000.21,.30),(2000.29,.45),(2000.37,.55),(2000.46,.60),(2000.54,.70),(2000.63,.85),(2000.71,.93),(2000.77,.95),(2000.80,.50),(2000.82,0),
 (2001.00,0),(2001.04,.10),(2001.13,.20),(2001.21,.35),(2001.25,.45),(2001.32,.68),(2001.42,.70),(2001.50,.72),(2001.57,.73),(2001.63,.80),(2001.67,.85),(2001.72,.83),(2001.77,0),
 (2002.10,0),(2002.17,.10),(2002.30,.30),(2002.42,.50),(2002.51,.60),(2002.59,.65),(2002.67,.58),(2002.76,.72),(2002.79,.50),(2002.82,0),
 (2003.13,.05),(2003.22,.20),(2003.28,.35),(2003.34,.40),(2003.42,.50),(2003.47,.55),(2003.53,.70),(2003.58,.80),(2003.63,.82),(2003.69,.70),(2003.74,.67),(2003.78,.30),(2003.80,0),
 (2004.14,.05),(2004.20,.15),(2004.27,.20),(2004.35,.25),(2004.43,.30),(2004.51,.48),(2004.60,.52),(2004.66,.53),(2004.72,.45),(2004.76,.30),(2004.80,0),
 (2005.06,.02),(2005.14,.10),(2005.23,.15),(2005.31,.25),(2005.37,.35),(2005.43,.50),(2005.50,.70),(2005.56,.92),(2005.62,.96),(2005.68,.93),(2005.75,.85),(2005.81,.40),(2005.84,0),
 (2006.06,.05),(2006.15,.15),(2006.23,.25),(2006.31,.32),(2006.39,.40),(2006.48,.48),(2006.56,.55),(2006.65,.78),(2006.70,.78),(2006.77,.70),(2006.84,0),
 (2007.07,.05),(2007.15,.37),(2007.23,.50),(2007.32,.60),(2007.40,.80),(2007.48,.92),(2007.57,.90),(2007.69,.92),(2007.77,.88),(2007.81,.60),(2007.84,0),
 (2008.19,.05),(2008.28,.20),(2008.36,.40),(2008.45,.50),(2008.53,.60),(2008.61,.75),(2008.70,.80),(2008.76,.82),(2008.82,.70),(2008.86,.30),(2008.90,0),
 (2009.20,.02),(2009.32,.20),(2009.36,.25),(2009.41,.30),(2009.45,.38)]
bay_lpj = [(1998.00,0),(1998.03,0),(1998.12,.02),(1998.20,.15),(1998.28,.25),(1998.37,.35),(1998.45,.45),(1998.54,.52),(1998.62,.57),(1998.68,.58),(1998.71,.50),(1998.74,.20),(1998.77,0),
 (1999.04,.02),(1999.12,.08),(1999.20,.12),(1999.29,.14),(1999.37,.12),(1999.45,.18),(1999.51,.22),(1999.58,.25),(1999.65,.27),(1999.71,.20),(1999.75,0),
 (2000.08,0),(2000.21,.05),(2000.29,.10),(2000.37,.20),(2000.48,.30),(2000.58,.40),(2000.67,.50),(2000.73,.60),(2000.77,.67),(2000.80,.30),(2000.82,0),
 (2001.00,.02),(2001.09,.05),(2001.15,.10),(2001.25,.15),(2001.38,.20),(2001.50,.23),(2001.63,.26),(2001.69,.28),(2001.74,0),
 (2002.17,.02),(2002.30,.08),(2002.42,.15),(2002.51,.22),(2002.59,.28),(2002.67,.30),(2002.74,.20),(2002.78,0),
 (2003.18,.02),(2003.26,.05),(2003.34,.10),(2003.42,.20),(2003.51,.30),(2003.58,.45),(2003.63,.47),(2003.69,.40),(2003.74,.10),(2003.76,0),
 (2004.14,.02),(2004.23,.05),(2004.31,.08),(2004.39,.10),(2004.47,.15),(2004.56,.18),(2004.64,.20),(2004.72,.20),(2004.76,.10),(2004.80,0),
 (2005.06,0),(2005.18,.05),(2005.31,.10),(2005.39,.15),(2005.47,.20),(2005.56,.28),(2005.62,.33),(2005.68,.33),(2005.73,.20),(2005.75,0),
 (2006.06,.02),(2006.19,.08),(2006.31,.15),(2006.39,.20),(2006.48,.28),(2006.56,.40),(2006.65,.50),(2006.70,.55),(2006.75,.50),(2006.79,0),
 (2007.07,.02),(2007.15,.10),(2007.23,.20),(2007.32,.28),(2007.44,.35),(2007.57,.45),(2007.69,.50),(2007.73,.52),(2007.77,.20),(2007.80,0),
 (2008.19,.02),(2008.28,.10),(2008.36,.20),(2008.45,.30),(2008.53,.35),(2008.61,.45),(2008.70,.52),(2008.74,.55),(2008.80,.40),(2008.85,.10),(2008.86,0),
 (2009.28,.02),(2009.36,.05),(2009.45,.03)]

# ---------------------------------------------------------------- helpers
def from_days(start, pairs):
    s = dt.datetime.fromisoformat(start)
    return [s + dt.timedelta(days=d) for d, _ in pairs], [v for _, v in pairs]

def from_decyear(pairs):
    xs = []
    for y, _ in pairs:
        yr = int(y)
        s, e = dt.datetime(yr, 1, 1), dt.datetime(yr + 1, 1, 1)
        xs.append(s + (e - s) * (y - yr))
    return xs, [v for _, v in pairs]

panels = [
    dict(ax="", label="a) Nuuk", data=[from_days(nuuk_start, s) for s in (nuuk_obs, nuuk_jsb, nuuk_orc, nuuk_jul, nuuk_coup, nuuk_lpj)]),
    dict(ax="2", label="b) Schilthorn", data=[from_decyear(s) for s in (schil_obs, schil_jsb, schil_orc, schil_jul, schil_coup, schil_lpj)]),
    dict(ax="3", label="c) Samoylov", data=[from_days(samo_start, s) for s in (samo_obs, samo_jsb, samo_orc, samo_jul, samo_coup, samo_lpj)]),
    dict(ax="4", label="d) Bayelva", data=[from_decyear(s) for s in (bay_obs, bay_jsb, bay_orc, bay_jul, bay_coup, bay_lpj)]),
]

fig = go.Figure()
for p in panels:
    for (xs, ys), name, col, w in zip(p["data"], series_names, series_colors, series_widths):
        fig.add_trace(go.Scatter(x=xs, y=ys, mode="lines", name=name, showlegend=False,
                                 line=dict(color=col, width=w), connectgaps=False,
                                 xaxis="x" + p["ax"], yaxis="y" + p["ax"]))

W, H = 1297, 769
FONT = "Liberation Sans, Arial, Helvetica, sans-serif"
xl = [76 / W, 643 / W]
xr = [723 / W, 1291 / W]
yt = [1 - 298 / H, 1 - 14 / H]
yb = [1 - 678 / H, 1 - 394 / H]

def xaxis(dom, anchor, rng, dtick, tick0, fmt, minor_dtick):
    return dict(domain=dom, anchor=anchor, type="date", range=rng, dtick=dtick, tick0=tick0,
                tickformat=fmt, tickangle=-45, ticks="outside", ticklen=13, tickwidth=2,
                tickcolor="black", showline=True, linewidth=2.5, linecolor="black", mirror=True,
                showgrid=False, zeroline=False, automargin=False, ticklabelstandoff=-4,
                tickfont=dict(family=FONT, size=14, color="black"),
                minor=dict(dtick=minor_dtick, tick0=tick0, ticks="outside", ticklen=7,
                           tickwidth=1.2, tickcolor="black", showgrid=False))

def yaxis(dom, anchor, top, dtick, minor_dtick):
    return dict(domain=dom, anchor=anchor, range=[0, top], dtick=dtick, tick0=0, tickformat=".1f",
                ticks="outside", ticklen=13, tickwidth=2, tickcolor="black", showline=True,
                linewidth=2.5, linecolor="black", mirror=True, showgrid=False, zeroline=False,
                automargin=False, ticklabelstandoff=4,
                tickfont=dict(family=FONT, size=14, color="black"),
                minor=dict(dtick=minor_dtick, tick0=0, ticks="outside", ticklen=7, tickwidth=1.2,
                           tickcolor="black", showgrid=False))

fig.update_layout(
    width=W, height=H, margin=dict(l=0, r=0, t=0, b=0, autoexpand=False),
    paper_bgcolor="white", plot_bgcolor="white", showlegend=False,
    font=dict(family=FONT, color="black"),
    xaxis=xaxis(xl, "y", ["2008-07-01", "2009-12-13"], "M3", "2008-07-01", "%b%Y", "M1"),
    yaxis=yaxis(yt, "x", 1.4, 0.2, 0.05),
    xaxis2=xaxis(xr, "y2", ["1999-01-01", "2007-05-15"], "M12", "1999-01-01", "%Y", "M6"),
    yaxis2=yaxis(yt, "x2", 5.0, 1.0, 0.2),
    xaxis3=xaxis(xl, "y3", ["2003-07-01", "2005-10-09"], "M3", "2003-07-01", "%b%Y", "M1"),
    yaxis3=yaxis(yb, "x3", 1.5, 0.3, 0.1),
    xaxis4=xaxis(xr, "y4", ["1998-01-01", "2009-06-13"], "M12", "1998-01-01", "%Y", "M6"),
    yaxis4=yaxis(yb, "x4", 1.5, 0.3, 0.1),
)

ann = []
# panel labels in boxes
for p in panels:
    ann.append(dict(text=p["label"], xref="x%s domain" % p["ax"], yref="y%s domain" % p["ax"],
                    x=0, y=1, xanchor="left", yanchor="top", xshift=7, yshift=-7, showarrow=False,
                    font=dict(family=FONT, size=24, color="black"), bgcolor="white",
                    bordercolor="black", borderwidth=1.5, borderpad=6))
# text legend (panel a)
legend_y = [23, 39, 54, 70, 86, 101]
for name, col, yy in zip(series_names, series_colors, legend_y):
    ann.append(dict(text=name, xref="paper", yref="paper", x=545 / W, y=1 - yy / H,
                    xanchor="left", yanchor="middle", showarrow=False, height=15, valign="middle",
                    font=dict(family=FONT, size=16, color=col)))
# axis titles
for cx, cy in [(16, 156), (664, 156), (16, 536), (664, 536)]:
    ann.append(dict(text="Snow depth [m]", xref="paper", yref="paper", x=cx / W, y=1 - cy / H,
                    xanchor="center", yanchor="middle", textangle=-90, showarrow=False,
                    font=dict(family=FONT, size=16, color="black")))
for cx, cy in [(359.5, 370), (1007, 367), (359.5, 755), (1007, 747)]:
    ann.append(dict(text="time", xref="paper", yref="paper", x=cx / W, y=1 - cy / H,
                    xanchor="center", yanchor="middle", showarrow=False,
                    font=dict(family=FONT, size=16, color="black")))
fig.update_layout(annotations=ann)

fig.write_html("out.html")
